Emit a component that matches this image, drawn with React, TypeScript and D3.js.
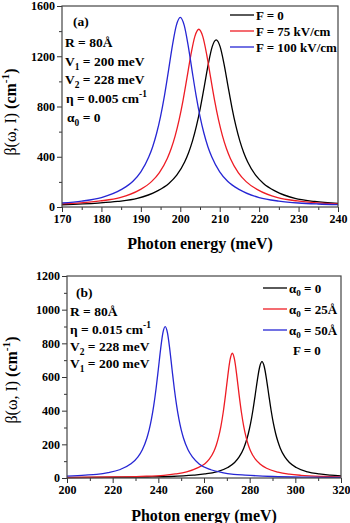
import * as d3 from "d3";
import React, { useEffect, useRef } from "react";

type Pt = [number, number];

// panel (a): absorption for three electric fields, alpha0 = 0
const aF0: Pt[] = [
  [170, 18], [179.1, 31], [184.1, 44], [189.1, 68], [194.1, 126], [197.1, 187], [199.1, 253],
  [201.1, 358], [202.1, 432], [203.1, 526], [204.1, 645], [205.1, 792], [206.1, 963], [207.1, 1138],
  [208.1, 1277], [209.1, 1331], [210.1, 1277], [211.1, 1138], [212.1, 963], [213.1, 792], [214.1, 645],
  [215.1, 526], [216.1, 432], [217.1, 358], [219.1, 253], [221.1, 187], [224.1, 126], [229.1, 68],
  [234.1, 44], [240, 29],
];
const aF75: Pt[] = [
  [170, 25], [174.7, 33], [179.7, 48], [184.7, 74], [189.7, 136], [192.7, 202], [194.7, 274],
  [196.7, 386], [197.7, 465], [198.7, 566], [199.7, 693], [200.7, 849], [201.7, 1029], [202.7, 1213],
  [203.7, 1358], [204.7, 1415], [205.7, 1358], [206.7, 1213], [207.7, 1029], [208.7, 849], [209.7, 693],
  [210.7, 566], [211.7, 465], [212.7, 386], [214.7, 274], [216.7, 202], [219.7, 136], [224.7, 74],
  [229.7, 48], [234.7, 33], [240, 24],
];
const aF100: Pt[] = [
  [170, 32], [175, 47], [180, 75], [185, 138], [188, 205], [190, 280], [192, 398], [193, 480],
  [194, 587], [195, 722], [196, 889], [197, 1084], [198, 1285], [199, 1446], [200, 1510], [201, 1446],
  [202, 1285], [203, 1084], [204, 889], [205, 722], [206, 587], [207, 480], [208, 398], [210, 280],
  [212, 205], [215, 138], [220, 75], [225, 47], [230, 32], [235, 24], [240, 19],
];
const aLegend = ["F = 0", "F = 75 kV/cm", "F = 100 kV/cm"];
const aXTicks = [170, 180, 190, 200, 210, 220, 230, 240];
const aXMinor = [175, 185, 195, 205, 215, 225, 235];
const aYTicks = [0, 400, 800, 1200, 1600];
const aYMinor = [200, 600, 1000, 1400];

// panel (b): absorption for three alpha0 values, F = 0
const bA0: Pt[] = [
  [200, 2], [235.4, 6], [245.4, 9], [255.4, 17], [260.4, 24], [265.4, 36], [270.4, 62], [273.4, 92],
  [275.4, 125], [277.4, 177], [278.4, 215], [279.4, 263], [280.4, 324], [281.4, 401], [282.4, 491],
  [283.4, 585], [284.4, 661], [285.4, 691], [286.4, 661], [287.4, 585], [288.4, 491], [289.4, 401],
  [290.4, 324], [291.4, 263], [292.4, 215], [293.4, 177], [295.4, 125], [297.4, 92], [300.4, 62],
  [305.4, 36], [310.4, 24], [315.4, 17], [320, 12.5],
];
const bA25: Pt[] = [
  [200, 3], [220, 6], [232.4, 10], [242.4, 16], [247.4, 24], [252.4, 37], [257.4, 62], [260.4, 85],
  [262.4, 113], [264.4, 160], [265.4, 196], [266.4, 244], [267.4, 307], [268.4, 389], [269.4, 491],
  [270.4, 604], [271.4, 701], [272.4, 741], [273.4, 701], [274.4, 604], [275.4, 491], [276.4, 389],
  [277.4, 307], [278.4, 244], [279.4, 196], [280.4, 160], [282.4, 113], [284.4, 85], [287.4, 58],
  [292.4, 35], [297.4, 23], [302.4, 16], [312.4, 9], [320, 6],
];
const bA50: Pt[] = [
  [200, 11], [208, 17], [213, 22], [218, 32], [223, 49], [228, 84], [231, 124], [233, 168], [235, 238],
  [236, 287], [237, 351], [238, 431], [239, 530], [240, 646], [241, 766], [242, 862], [243, 899],
  [244, 862], [245, 766], [246, 646], [247, 530], [248, 431], [249, 351], [250, 287], [251, 238],
  [253, 168], [255, 124], [258, 82], [263, 49], [268, 32], [273, 22], [278, 17], [290, 9], [305, 5],
  [320, 3.5],
];
const bLegend = ["0", "25Å", "50Å"];
const bXTicks = [200, 220, 240, 260, 280, 300, 320];
const bXMinor = [210, 230, 250, 270, 290, 310];
const bYTicks = [0, 200, 400, 600, 800, 1000, 1200];
const bYMinor = [100, 300, 500, 700, 900, 1100];

const colors = ["#000000", "#ee1c24", "#2626d4"];
const font = "'Liberation Serif', 'Times New Roman', serif";

type Part = { t: string; s?: "sub" | "sup"; w?: string };

function addRich(
  sel: d3.Selection<any, unknown, null, undefined>,
  x: number,
  y: number,
  parts: Part[],
  size: number,
  anchor = "start"
) {
  const text = sel
    .append("text")
    .attr("x", x)
    .attr("y", y)
    .attr("font-size", size)
    .attr("font-weight", "bold")
    .attr("text-anchor", anchor);
  let shift = 0;
  parts.forEach((p) => {
    const target = p.s === "sub" ? size * 0.3 : p.s === "sup" ? -size * 0.42 : 0;
    const ts = text.append("tspan").attr("dy", target - shift).text(p.t);
    if (p.s) ts.attr("font-size", size * 0.7);
    if (p.w) ts.attr("font-weight", p.w);
    shift = target;
  });
  return text;
}

interface PanelOpts {
  box: { left: number; right: number; top: number; bottom: number };
  xDomain: [number, number];
  yDomain: [number, number];
  xTicks: number[];
  xMinor: number[];
  yTicks: number[];
  yMinor: number[];
  series: Pt[][];
  yLabelPos: [number, number];
  xLabelY: number;
}

function drawPanel(svg: d3.Selection<SVGSVGElement, unknown, null, undefined>, o: PanelOpts) {
  const { left, right, top, bottom } = o.box;
  const x = d3.scaleLinear().domain(o.xDomain).range([left, right]);
  const y = d3.scaleLinear().domain(o.yDomain).range([bottom, top]);
  const g = svg.append("g");

  const line = d3
    .line<Pt>()
    .x((d) => x(d[0]))
    .y((d) => y(d[1]))
    .curve(d3.curveMonotoneX);

  o.series.forEach((s, i) => {
    g.append("path")
      .attr("d", line(s))
      .attr("fill", "none")
      .attr("stroke", colors[i])
      .attr("stroke-width", 1.3);
  });

  const styleAxis = (a: d3.Selection<SVGGElement, unknown, null, undefined>) => {
    a.select(".domain").remove();
    a.selectAll("line").attr("stroke", "#333").attr("stroke-width", 1);
    a.selectAll("text")
      .attr("font-family", font)
      .attr("font-weight", "bold")
      .attr("font-size", 12)
      .attr("fill", "#000");
  };

  g.append("g")
    .attr("transform", `translate(0,${bottom})`)
    .call(d3.axisBottom(x).tickValues(o.xMinor).tickSize(3).tickFormat(() => ""))
    .call(styleAxis);
  g.append("g")
    .attr("transform", `translate(0,${bottom})`)
    .call(d3.axisBottom(x).tickValues(o.xTicks).tickSize(5).tickPadding(2).tickFormat(d3.format("d")))
    .call(styleAxis);
  g.append("g")
    .attr("transform", `translate(${left},0)`)
    .call(d3.axisLeft(y).tickValues(o.yMinor).tickSize(3).tickFormat(() => ""))
    .call(styleAxis);
  g.append("g")
    .attr("transform", `translate(${left},0)`)
    .call(d3.axisLeft(y).tickValues(o.yTicks).tickSize(5).tickPadding(2).tickFormat(d3.format("d")))
    .call(styleAxis);

  g.append("rect")
    .attr("x", left)
    .attr("y", top)
    .attr("width", right - left)
    .attr("height", bottom - top)
    .attr("fill", "none")
    .attr("stroke", "#444")
    .attr("stroke-width", 1.2);

  addRich(g, (left + right) / 2, o.xLabelY, [{ t: "Photon energy (meV)" }], 16, "middle");

  const yl = g
    .append("g")
    .attr("transform", `translate(${o.yLabelPos[0]},${o.yLabelPos[1]}) rotate(-90)`);
  addRich(
    yl,
    0,
    0,
    [{ t: "β(ω, I) ", w: "normal" }, { t: "(cm" }, { t: "-1", s: "sup" }, { t: ")" }],
    16,
    "middle"
  );

  return g;
}

function legendRows(
  g: d3.Selection<any, unknown, null, undefined>,
  x0: number,
  x1: number,
  ys: number[],
  labels: Part[][]
) {
  ys.forEach((yy, i) => {
    g.append("line")
      .attr("x1", x0)
      .attr("x2", x1)
      .attr("y1", yy)
      .attr("y2", yy)
      .attr("stroke", colors[i])
      .attr("stroke-width", 1.3);
    addRich(g, x1 + 2, yy + 4.5, labels[i], 13);
  });
}

const App = () => {
  const ref = useRef<SVGSVGElement | null>(null);

  useEffect(() => {
    const svg = d3.select(ref.current as SVGSVGElement);
    svg.selectAll("*").remove();
    svg.attr("font-family", font);

    const ga = drawPanel(svg, {
      box: { left: 62, right: 338, top: 6, bottom: 207 },
      xDomain: [170, 240],
      yDomain: [0, 1600],
      xTicks: aXTicks,
      xMinor: aXMinor,
      yTicks: aYTicks,
      yMinor: aYMinor,
      series: [aF0, aF75, aF100],
      yLabelPos: [16, 112],
      xLabelY: 249,
    });
    addRich(ga, 73, 26, [{ t: "(a)" }], 13.5);
    addRich(ga, 65, 47, [{ t: "R = 80Å" }], 13.5);
    addRich(ga, 65, 66, [{ t: "V" }, { t: "1", s: "sub" }, { t: " = 200 meV" }], 13.5);
    addRich(ga, 65, 84, [{ t: "V" }, { t: "2", s: "sub" }, { t: " = 228 meV" }], 13.5);
    addRich(ga, 66, 103, [{ t: "η = 0.005 cm" }, { t: "-1", s: "sup" }], 13.5);
    addRich(ga, 67, 122, [{ t: "α" }, { t: "0", s: "sub" }, { t: " = 0" }], 13.5);
    legendRows(ga, 230, 254, [15, 31, 47], aLegend.map((t) => [{ t }]));

    const gb = drawPanel(svg, {
      box: { left: 67, right: 341, top: 276, bottom: 478 },
      xDomain: [200, 320],
      yDomain: [0, 1200],
      xTicks: bXTicks,
      xMinor: bXMinor,
      yTicks: bYTicks,
      yMinor: bYMinor,
      series: [bA0, bA25, bA50],
      yLabelPos: [17, 380],
      xLabelY: 521,
    });
    addRich(gb, 76, 297, [{ t: "(b)" }], 13.5);
    addRich(gb, 70, 316, [{ t: "R = 80Å" }], 13.5);
    addRich(gb, 70, 334, [{ t: "η = 0.015 cm" }, { t: "-1", s: "sup" }], 13.5);
    addRich(gb, 70, 351, [{ t: "V" }, { t: "2", s: "sub" }, { t: " = 228 meV" }], 13.5);
    addRich(gb, 70, 368, [{ t: "V" }, { t: "1", s: "sub" }, { t: " = 200 meV" }], 13.5);
    legendRows(
      gb,
      263,
      287,
      [288, 309, 330],
      bLegend.map((t) => [{ t: "α" }, { t: "0", s: "sub" }, { t: " = " + t }])
    );
    addRich(gb, 293, 355, [{ t: "F = 0" }], 13);
  }, []);

  return (
    <svg
      ref={ref}
      width={350}
      height={523}
      style={{ position: "absolute", left: 0, top: 0, background: "#fff" }}
    />
  );
};

export default App;
